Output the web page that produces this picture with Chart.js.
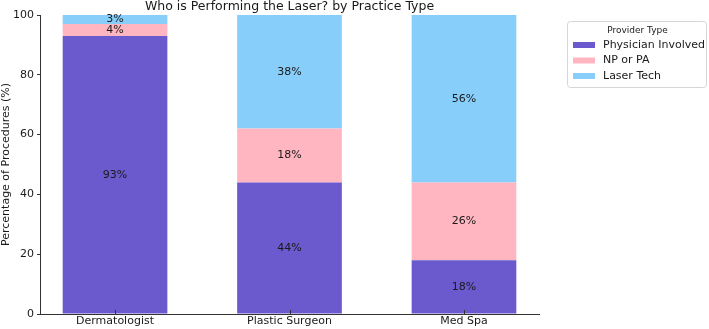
<!DOCTYPE html>
<html>
<head>
<meta charset="utf-8">
<script src="https://cdn.jsdelivr.net/npm/chart.js@4"></script>
<style>
  html, body { margin: 0; padding: 0; background: #fff; }
  #wrap { width: 709px; height: 329px; }
</style>
</head>
<body>
<div id="wrap"><canvas id="grafico" width="709" height="329"></canvas></div>
<script>
// dados
const tipos = ["Dermatologist", "Plastic Surgeon", "Med Spa"];
const fornecedores = ["Physician Involved", "NP or PA", "Laser Tech"];
const medico = [93, 44, 18];
const npPa = [4, 18, 26];
const tecnico = [3, 38, 56];
const ticksY = [0, 20, 40, 60, 80, 100];

const cores = ["#6A5ACD", "#FFB6C1", "#87CEFA"];
const fonte = "DejaVu Sans";
const corTexto = "#1a1a1a";

const pontos = arr => arr.map((v, i) => ({ x: i, y: v }));

// rotulos de porcentagem no meio de cada bloco + marcas do eixo x (para dentro)
const rotulos = {
    id: "rotulos",
    afterDatasetsDraw(chart) {
        const ctx = chart.ctx;
        ctx.save();
        ctx.font = "11px '" + fonte + "'";
        ctx.fillStyle = corTexto;
        ctx.textAlign = "center";
        ctx.textBaseline = "middle";
        chart.data.datasets.forEach((ds, d) => {
            chart.getDatasetMeta(d).data.forEach((bar, i) => {
                const y = (bar.y + bar.base) / 2;
                ctx.fillText(ds.data[i].y + "%", bar.x, y);
            });
        });
        const sx = chart.scales.x;
        const fundo = chart.chartArea.bottom;
        ctx.strokeStyle = "#333";
        ctx.lineWidth = 1;
        tipos.forEach((_, i) => {
            const px = Math.round(sx.getPixelForValue(i)) + 0.5;
            ctx.beginPath();
            ctx.moveTo(px, fundo);
            ctx.lineTo(px, fundo - 4);
            ctx.stroke();
        });
        ctx.restore();
    }
};

// titulo centrado na area do grafico + legenda com moldura
const extras = {
    id: "extras",
    afterDraw(chart) {
        const ctx = chart.ctx;
        const area = chart.chartArea;
        ctx.save();
        ctx.fillStyle = corTexto;
        ctx.font = "12.5px '" + fonte + "'";
        ctx.textAlign = "center";
        ctx.textBaseline = "alphabetic";
        ctx.fillText("Who is Performing the Laser? by Practice Type", (area.left + area.right) / 2, 10);

        // legenda
        const lx = 567, ly = 21, lw = 139, lh = 66;
        ctx.strokeStyle = "#d6d6d6";
        ctx.lineWidth = 1;
        ctx.beginPath();
        ctx.roundRect(lx + 0.5, ly + 0.5, lw, lh, 3);
        ctx.fillStyle = "rgba(255,255,255,0.8)";
        ctx.fill();
        ctx.stroke();
        ctx.fillStyle = corTexto;
        ctx.font = "9px '" + fonte + "'";
        ctx.textBaseline = "middle";
        ctx.fillText("Provider Type", lx + lw / 2 + 1, ly + 10);
        ctx.textAlign = "left";
        ctx.font = "11px '" + fonte + "'";
        chart.data.datasets.forEach((ds, d) => {
            const y = ly + 24 + d * 15.5;
            ctx.fillStyle = ds.backgroundColor;
            ctx.fillRect(lx + 6, y - 3, 22, 6);
            ctx.fillStyle = corTexto;
            ctx.fillText(ds.label, lx + 36, y);
        });
        ctx.restore();
    }
};

new Chart(document.getElementById("grafico"), {
    type: "bar",
    data: {
        datasets: [
            { label: fornecedores[0], data: pontos(medico), backgroundColor: cores[0] },
            { label: fornecedores[1], data: pontos(npPa), backgroundColor: cores[1] },
            { label: fornecedores[2], data: pontos(tecnico), backgroundColor: cores[2] }
        ]
    },
    options: {
        responsive: false,
        animation: false,
        devicePixelRatio: 1,
        categoryPercentage: 1,
        barPercentage: 0.6,
        layout: { padding: { left: 0, top: 15, right: 170, bottom: 0 } },
        plugins: {
            legend: { display: false },
            title: { display: false },
            tooltip: { enabled: false }
        },
        scales: {
            x: {
                type: "linear",
                stacked: true,
                offset: false,
                min: -0.43,
                max: 2.43,
                afterBuildTicks: s => { s.ticks = tipos.map((_, i) => ({ value: i })); },
                afterFit: s => { s.height = 15; },
                grid: { display: false, drawTicks: false, tickLength: 0, offset: false },
                border: { display: true, color: "#333", width: 1 },
                ticks: {
                    padding: 1,
                    color: corTexto,
                    font: { family: fonte, size: 11 },
                    callback: v => tipos[v]
                }
            },
            y: {
                stacked: true,
                min: 0,
                max: 100,
                afterBuildTicks: s => { s.ticks = ticksY.map(v => ({ value: v })); },
                afterFit: s => { s.width = 40; },
                grid: { display: true, drawOnChartArea: false, tickLength: 3, color: "#333" },
                border: { display: true, color: "#333", width: 1 },
                title: {
                    display: true,
                    text: "Percentage of Procedures (%)",
                    color: corTexto,
                    font: { family: fonte, size: 11 },
                    padding: 0
                },
                ticks: {
                    padding: 3,
                    color: corTexto,
                    font: { family: fonte, size: 11 }
                }
            }
        }
    },
    plugins: [rotulos, extras]
});
</script>
</body>
</html>
